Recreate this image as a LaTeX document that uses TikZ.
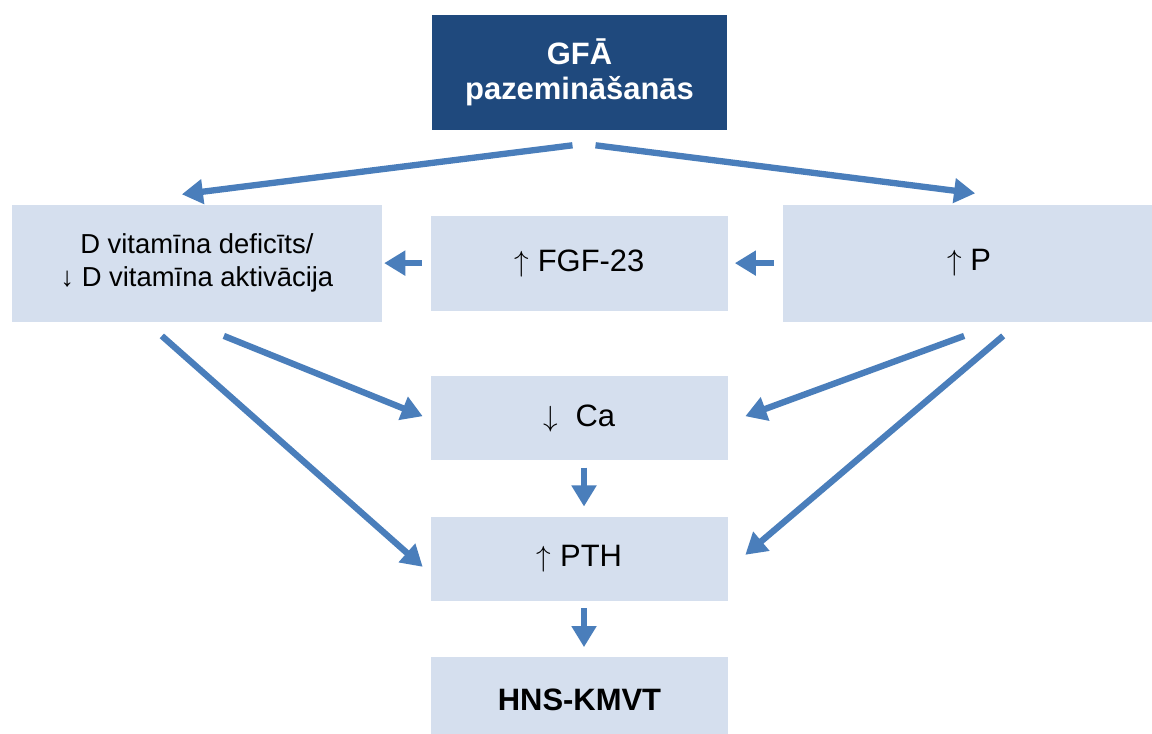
\documentclass[tikz,border=0pt]{standalone}
\usepackage{fontspec}
\setmainfont{Liberation Sans}
\usetikzlibrary{positioning, arrows.meta}

\definecolor{darkblue}{HTML}{1F497D}
\definecolor{lightblue}{HTML}{D5DFEE}
\definecolor{arrowblue}{HTML}{4A7EBB}

\tikzset{
    box/.style={fill=lightblue, inner sep=0pt, align=center, font=\fontsize{22}{26}\selectfont},
    topbox/.style={box, fill=darkblue, text=white, font=\fontsize{22}{25}\selectfont\bfseries},
    arr/.style={draw=arrowblue, line width=4.5pt, -{Triangle[length=15pt,width=17pt]}},
}

\begin{document}
\begin{tikzpicture}[x=0.025cm, y=-0.025cm]
    \clip (0,0) rectangle (1152,733);
    % boxes
    \node[topbox, minimum width=7.375cm, minimum height=2.875cm] (gfa) at (579.5,72.5) {GFĀ\\pazemināšanās};
    \node[box, below=2.125cm of gfa, minimum width=7.4cm, minimum height=2.375cm] (fgf) {$\uparrow$ FGF-23};
    \node[box, below=1.625cm of fgf, minimum width=7.425cm, minimum height=2.1cm] (ca) {$\downarrow$~~Ca};
    \node[box, below=1.4cm of ca,   minimum width=7.425cm, minimum height=2.1cm] (pth) {$\uparrow$ PTH};
    \node[box, below=1.4cm of pth,  minimum width=7.425cm, minimum height=2.1cm,
          font=\fontsize{22}{26}\selectfont\bfseries] (hns) {HNS-KMVT};
    \node[box, left =1.225cm of fgf, minimum width=9.25cm, minimum height=2.925cm,
          font=\fontsize{19.5}{23.4}\selectfont] (vitd) {D vitamīna deficīts/\\↓ D vitamīna aktivācija};
    \node[box, right=1.375cm of fgf, minimum width=9.3cm, minimum height=2.925cm] (p) {$\uparrow$ P};

    % arrows
    \draw[arr] ([shift={(-7,15)}]gfa.south) -- ([shift={(-15,-10)}]vitd.north);
    \draw[arr] ([shift={(16,15)}]gfa.south) -- ([shift={(6,-11)}]p.north);
    \draw[arr] ([xshift=-0.225cm]p.west) -- ([xshift=0.175cm]p.west -| fgf.east);
    \draw[arr] ([xshift=-0.225cm]fgf.west) -- ([xshift=0.05cm]fgf.west -| vitd.east);
    \draw[arr] ([shift={(27,14)}]vitd.south) -- ([shift={(-8,-2)}]ca.west);
    \draw[arr] ([shift={(-35,14)}]vitd.south) -- ([shift={(-8,8)}]pth.west);
    \draw[arr] ([shift={(-5,14)}]p.south) -- ([shift={(17,-2)}]ca.east);
    \draw[arr] ([shift={(34,14)}]p.south) -- ([shift={(17,-4)}]pth.east);
    \draw[arr] ([shift={(4.5,7)}]ca.south) -- ([shift={(4.5,-10)}]pth.north);
    \draw[arr] ([shift={(4.5,7)}]pth.south) -- ([shift={(4.5,-10)}]hns.north);
\end{tikzpicture}
\end{document}
